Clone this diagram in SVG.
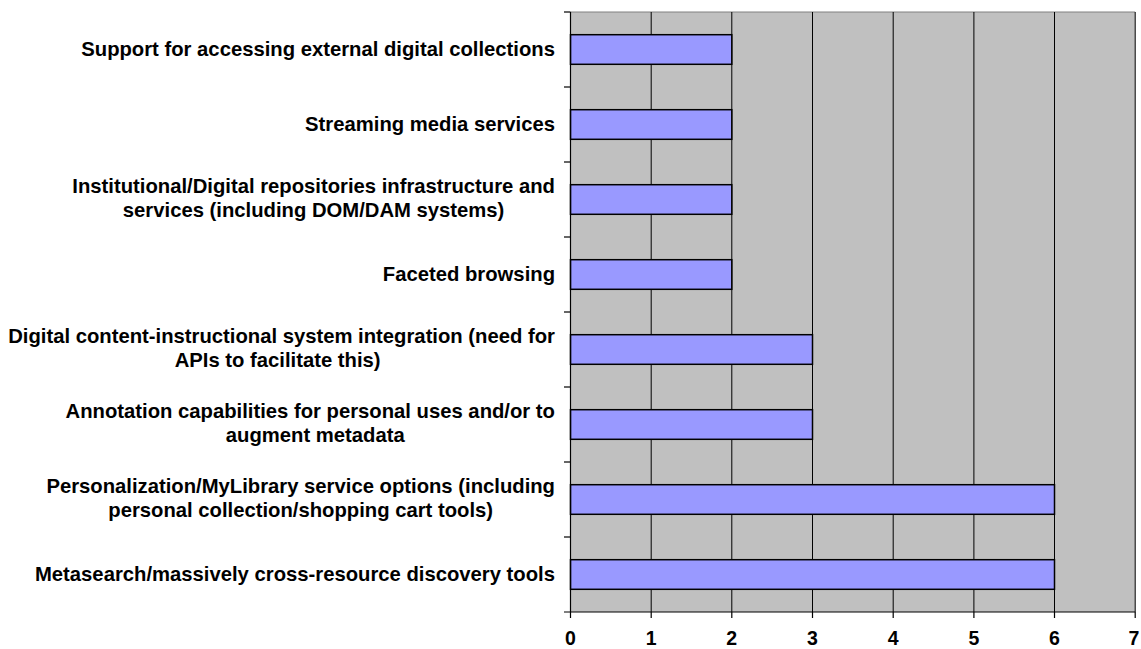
<svg xmlns="http://www.w3.org/2000/svg" width="1141" height="649" viewBox="0 0 1141 649">
<style>
text{font-family:"Liberation Sans",Arial,sans-serif;font-weight:bold;font-size:20.25px;fill:#000}
.lbl{text-anchor:end}
.mid{text-anchor:middle}
.num{text-anchor:middle;font-size:19.5px}
.grid{stroke:#000;stroke-width:1}
.bar{fill:#9999FF;stroke:#000;stroke-width:1.5}
.ax{stroke:#000;stroke-width:1.2}
</style>
<rect width="1141" height="649" fill="#fff"/>
<g id="plot">
<rect x="570.5" y="12" width="564.7" height="600" fill="#C0C0C0"/>
<line x1="570.5" y1="12" x2="1135.2" y2="12" stroke="#808080" stroke-width="1"/>
</g>
<g id="gridlines">
<line class="grid" x1="651.2" y1="12" x2="651.2" y2="612"/>
<line class="grid" x1="731.8" y1="12" x2="731.8" y2="612"/>
<line class="grid" x1="812.5" y1="12" x2="812.5" y2="612"/>
<line class="grid" x1="893.2" y1="12" x2="893.2" y2="612"/>
<line class="grid" x1="973.9" y1="12" x2="973.9" y2="612"/>
<line class="grid" x1="1054.5" y1="12" x2="1054.5" y2="612"/>
<line class="grid" x1="1135.2" y1="12" x2="1135.2" y2="612"/>
</g>
<g id="bars">
<rect class="bar" x="570.5" y="34.7" width="161.3" height="29.6"/>
<rect class="bar" x="570.5" y="109.7" width="161.3" height="29.6"/>
<rect class="bar" x="570.5" y="184.7" width="161.3" height="29.6"/>
<rect class="bar" x="570.5" y="259.7" width="161.3" height="29.6"/>
<rect class="bar" x="570.5" y="334.7" width="242" height="29.6"/>
<rect class="bar" x="570.5" y="409.7" width="242" height="29.6"/>
<rect class="bar" x="570.5" y="484.7" width="484" height="29.6"/>
<rect class="bar" x="570.5" y="559.7" width="484" height="29.6"/>
</g>
<g id="axes">
<line class="ax" x1="570.5" y1="12" x2="570.5" y2="612"/>
<line class="ax" x1="564" y1="612" x2="1135.2" y2="612"/>
<g class="yticks">
<line class="ax" x1="564" y1="12" x2="570.5" y2="12"/>
<line class="ax" x1="564" y1="87" x2="570.5" y2="87"/>
<line class="ax" x1="564" y1="162" x2="570.5" y2="162"/>
<line class="ax" x1="564" y1="237" x2="570.5" y2="237"/>
<line class="ax" x1="564" y1="312" x2="570.5" y2="312"/>
<line class="ax" x1="564" y1="387" x2="570.5" y2="387"/>
<line class="ax" x1="564" y1="462" x2="570.5" y2="462"/>
<line class="ax" x1="564" y1="537" x2="570.5" y2="537"/>
</g>
<g class="xticks">
<line class="ax" x1="570.5" y1="612" x2="570.5" y2="618"/>
<line class="ax" x1="651.2" y1="612" x2="651.2" y2="618"/>
<line class="ax" x1="731.8" y1="612" x2="731.8" y2="618"/>
<line class="ax" x1="812.5" y1="612" x2="812.5" y2="618"/>
<line class="ax" x1="893.2" y1="612" x2="893.2" y2="618"/>
<line class="ax" x1="973.9" y1="612" x2="973.9" y2="618"/>
<line class="ax" x1="1054.5" y1="612" x2="1054.5" y2="618"/>
<line class="ax" x1="1135.2" y1="612" x2="1135.2" y2="618"/>
</g>
</g>
<g id="xlabels">
<text class="num" x="570.5" y="645">0</text>
<text class="num" x="651.2" y="645">1</text>
<text class="num" x="731.8" y="645">2</text>
<text class="num" x="812.5" y="645">3</text>
<text class="num" x="893.2" y="645">4</text>
<text class="num" x="973.9" y="645">5</text>
<text class="num" x="1054.5" y="645">6</text>
<text class="num" x="1134" y="645">7</text>
</g>
<g id="ylabels">
<text class="lbl" x="555" y="56">Support for accessing external digital collections</text>
<text class="lbl" x="555" y="131">Streaming media services</text>
<text class="lbl" x="555" y="193">Institutional/Digital repositories infrastructure and</text>
<text class="mid" x="313.6" y="217">services (including DOM/DAM systems)</text>
<text class="lbl" x="555" y="281">Faceted browsing</text>
<text class="lbl" x="555" y="343">Digital content-instructional system integration (need for</text>
<text class="mid" x="277.6" y="367">APIs to facilitate this)</text>
<text class="lbl" x="555" y="418">Annotation capabilities for personal uses and/or to</text>
<text class="mid" x="315.3" y="442">augment metadata</text>
<text class="lbl" x="555" y="493">Personalization/MyLibrary service options (including</text>
<text class="mid" x="300.7" y="517">personal collection/shopping cart tools)</text>
<text class="lbl" x="555" y="581">Metasearch/massively cross-resource discovery tools</text>
</g>
</svg>
